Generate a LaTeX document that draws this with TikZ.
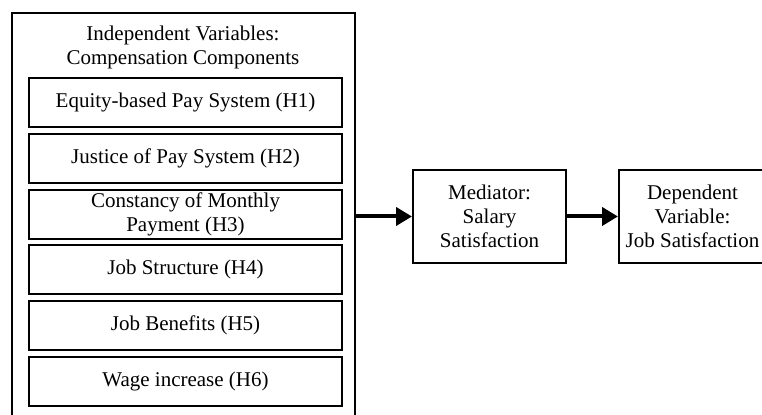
\documentclass[tikz,border=0pt]{standalone}
\usepackage{fontspec}
\setmainfont{Liberation Serif}
\usetikzlibrary{arrows.meta}

\begin{document}
\begin{tikzpicture}[x=0.5pt, y=0.5pt,
	every node/.style={font=\fontsize{10.5}{12}\selectfont},
	box/.style={draw, line width=1pt, align=center, inner sep=0pt},
	hyp/.style={box, minimum width=156.5pt, minimum height=24.5pt},
	conn/.style={line width=2pt, -{Triangle[length=8pt, width=9pt]}}]
	\useasboundingbox (0,0) rectangle (762,415);
	\clip (0,0) rectangle (762,415);
	\node[box, minimum width=171.5pt, minimum height=206pt] (indep) at (183.5,196) {};
	\node[align=center] (title) at (183,368) {Independent Variables:\\Compensation Components};
	\foreach \i/\txt in {1/Equity-based Pay System (H1), 2/Justice of Pay System (H2),
		3/Constancy of Monthly\\Payment (H3), 4/Job Structure (H4),
		5/Job Benefits (H5), 6/Wage increase (H6)}
		\node[hyp] (h\i) at (185.5,{312.5-55.8*(\i-1)}) {\txt};
	\node[box, minimum width=76.5pt, minimum height=46.5pt] (med) at (489.5,198.5) {Mediator:\\Salary\\Satisfaction};
	\node[box, minimum width=73.5pt, minimum height=46.5pt] (dep) at (692.5,198.5) {Dependent\\Variable:\\Job Satisfaction};
	\draw[conn] (indep.east |- med.west) -- (med.west);
	\draw[conn] (med.east) -- (dep.west);
\end{tikzpicture}
\end{document}
